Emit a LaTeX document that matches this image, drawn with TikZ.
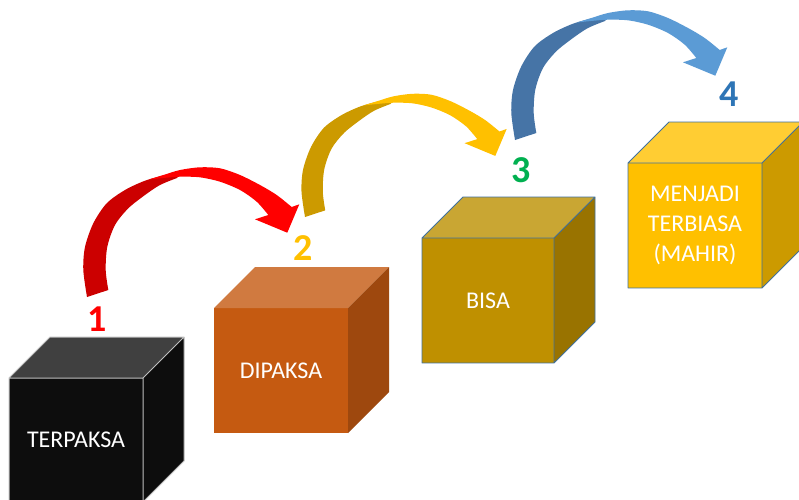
\documentclass[tikz,border=0pt]{standalone}
\usepackage{fontspec}
\setmainfont{Carlito}
\definecolor{edgegray}{HTML}{BFBFBF}
\definecolor{edgeblue}{HTML}{41719C}
\definecolor{blackfront}{HTML}{0D0D0D}
\definecolor{blacktop}{HTML}{404040}
\definecolor{orfront}{HTML}{C55A11}
\definecolor{ortop}{HTML}{D07A40}
\definecolor{orside}{HTML}{9E480E}
\definecolor{gdfront}{HTML}{BF9000}
\definecolor{gdtop}{HTML}{C9A633}
\definecolor{gdside}{HTML}{997300}
\definecolor{ylfront}{HTML}{FFC000}
\definecolor{yltop}{HTML}{FFCD33}
\definecolor{ylside}{HTML}{CC9A00}
\definecolor{redback}{HTML}{CC0000}
\definecolor{redfront}{HTML}{FF0000}
\definecolor{yelback}{HTML}{CC9A00}
\definecolor{yelfront}{HTML}{FFC000}
\definecolor{bluback}{HTML}{4674A6}
\definecolor{blufront}{HTML}{5B9BD5}
\definecolor{numred}{HTML}{FF0000}
\definecolor{numyel}{HTML}{FFC000}
\definecolor{numgreen}{HTML}{00B050}
\definecolor{numblue}{HTML}{2E75B6}
\tikzset{
  face/.style={rectangle, inner sep=0pt, outer sep=0pt, anchor=north west,
    text=white, font=\fontsize{24}{30}\selectfont, align=center},
  stepnum/.style={font=\fontsize{38}{38}\selectfont\bfseries, inner sep=0pt},
  % curved block arrow: darker back ribbon plus brighter front ribbon with head
  pics/bendarrow/.style 2 args={code={
    \fill[#1] plot[smooth] coordinates {(0,0) (-3.7,-27) (-2,-50) (6.3,-73.7) (19.7,-93.7) (38,-107) (58,-116.3) (78,-122) (96,-126)}
      -- plot[smooth] coordinates {(90,-119) (73,-112) (58,-102) (41.3,-88.7) (28,-72) (20.3,-50.3) (18.7,-27) (21.3,-7)} -- cycle;
    \fill[#2] plot[smooth] coordinates {(62,-117.5) (78,-122.5) (93,-127) (113,-129.7) (133,-128.7) (153,-122) (173,-112) (189.7,-102) (204.7,-90)}
      -- (212.3,-92.7) -- (200.3,-64.3) -- (168,-77.7)
      -- plot[smooth] coordinates {(181.3,-82) (169.7,-95.3) (153,-107) (133,-115.3) (113,-119.7) (93,-120.3) (76,-119) (62,-117.5)} -- cycle;
  }}
}
\begin{document}
\begin{tikzpicture}[x=1pt,y=-1pt]
\path[use as bounding box] (0,0) rectangle (799,499);
\fill[white] (0,0) rectangle (799,499);
\clip (0,0) rectangle (799,499);

% cube 1: TERPAKSA
\node[face, fill=blackfront, minimum width=134pt, minimum height=124pt] (c1) at (9,378) {TERPAKSA};
\fill[blacktop] (c1.north west) -- ++(41,-41) -- ++(134,0) -- (c1.north east) -- cycle;
\fill[blackfront] (c1.north east) -- ++(41,-41) -- ++(0,124) -- (c1.south east) -- cycle;
\draw[edgegray, line width=1pt, line join=round]
  (c1.south west) -- (c1.north west) -- ++(41,-41) -- ++(134,0) -- (c1.north east) -- (c1.north west)
  (c1.north east) -- (c1.south east)
  (c1.north east) ++(41,-41) -- ++(0,124) -- (c1.south east);

% cube 2: DIPAKSA
\node[face, fill=orfront, minimum width=134pt, minimum height=125pt] (c2) at (214,308) {DIPAKSA};
\fill[ortop] (c2.north west) -- ++(41,-41) -- ++(134,0) -- (c2.north east) -- cycle;
\fill[orside] (c2.north east) -- ++(41,-41) -- ++(0,125) -- (c2.south east) -- cycle;

% cube 3: BISA
\node[face, fill=gdfront, minimum width=132pt, minimum height=125pt] (c3) at (422,238) {BISA};
\fill[gdtop] (c3.north west) -- ++(41,-41) -- ++(132,0) -- (c3.north east) -- cycle;
\fill[gdside] (c3.north east) -- ++(41,-41) -- ++(0,125) -- (c3.south east) -- cycle;
\draw[edgeblue, line width=0.9pt, line join=round] (c3.south west) rectangle (c3.north east)
  (c3.north west) -- ++(41,-41) -- ++(132,0) -- (c3.north east)
  (c3.north east) ++(41,-41) -- ++(0,125) -- (c3.south east);

% cube 4: MENJADI TERBIASA (MAHIR)
\node[face, fill=ylfront, minimum width=134pt, minimum height=125pt] (c4) at (628,163) {MENJADI\\TERBIASA\\(MAHIR)};
\fill[yltop] (c4.north west) -- ++(41,-41) -- ++(134,0) -- (c4.north east) -- cycle;
\fill[ylside] (c4.north east) -- ++(41,-41) -- ++(0,125) -- (c4.south east) -- cycle;
\draw[edgeblue, line width=0.9pt, line join=round] (c4.south west) rectangle (c4.north east)
  (c4.north west) -- ++(41,-41) -- ++(134,0) -- (c4.north east)
  (c4.north east) ++(41,-41) -- ++(0,125) -- (c4.south east);

% step numbers
\node[stepnum, text=numred] (n1) at (97,319) {1};
\node[stepnum, text=numyel] (n2) at (303,248) {2};
\node[stepnum, text=numgreen] (n3) at (521,170) {3};
\node[stepnum, text=numblue] (n4) at (729,94) {4};

% curved arrows between the steps
\pic at (87,297) {bendarrow={redback}{redfront}};
\pic[scale=0.95] at (305,217) {bendarrow={yelback}{yelfront}};
\pic at (515,140) {bendarrow={bluback}{blufront}};
\end{tikzpicture}
\end{document}
